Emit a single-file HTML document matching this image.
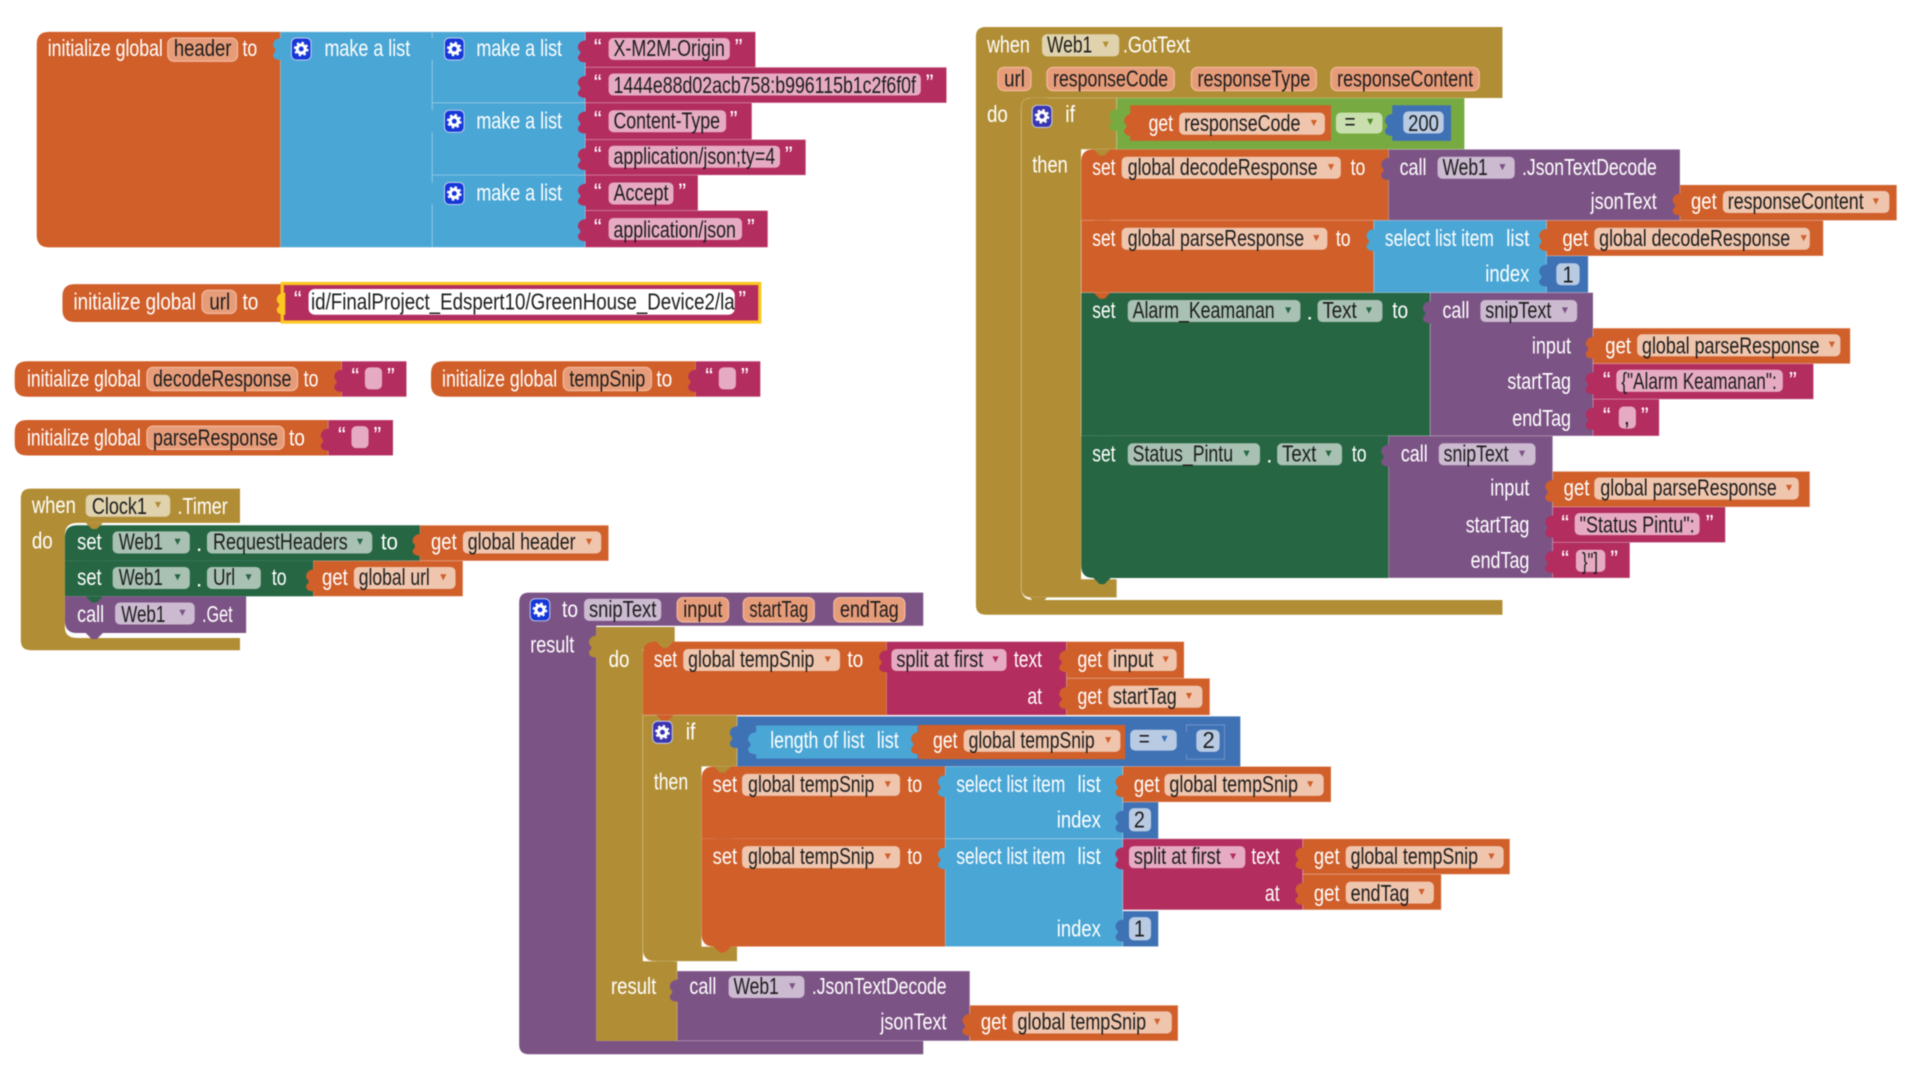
<!DOCTYPE html>
<html><head><meta charset="utf-8"><title>Blocks</title>
<style>
html,body{margin:0;padding:0;background:#fff;width:1920px;height:1080px;overflow:hidden}
svg{display:block;filter:blur(.5px)}
text{font-family:"Liberation Sans",sans-serif;font-size:19px;transform:translateY(.8px)}
.w{fill:#fff}.k{fill:#1c1c1c}
.b rect,rect.b{stroke:rgba(255,255,255,.22);stroke-width:.8}
.o{fill:#d05f2a}.l{fill:#4aa6d5}.m{fill:#b32d5e}.v{fill:#b18e35}.p{fill:#7c5385}.g{fill:#266643}.y{fill:#77ab41}.a{fill:#3f71b5}
.fn{fill:#e79c79;stroke:#f2b89c;stroke-width:1}.fg{fill:#efc5ad}.fm{fill:#e6abc2}.fe{fill:#a8c1b3}.fp{fill:#cbbad0}.fv{fill:#dfd2ad}.fa{fill:#b9cbe3}.fy{fill:#c9e0ae}
.ao{fill:#d05f2a}.ag{fill:#266643}.ap{fill:#7c5385}.am{fill:#b32d5e}.av{fill:#b18e35}.aa{fill:#3f71b5}
</style></head><body>
<svg xmlns="http://www.w3.org/2000/svg" width="1920" height="1080" viewBox="0 0 1568 882">
<defs>
<path id="n" d="M1 2C-3 2-6 4-6 8C-6 10-4 10-4 12C-4 14-6 14-6 16C-6 19-3 20 1 20z"/>
<path id="d" d="M-7 0L-2 5H2L7 0z"/>
<g id="c"><rect x="-8" y="-9" width="16" height="18" rx="4" stroke="#c3cdf0" stroke-width=".8"/><circle r="3.3" fill="none" stroke="#fff" stroke-width="2.6"/><circle r="5.2" fill="none" stroke="#fff" stroke-width="1.6" stroke-dasharray="2 2.1"/></g>
<path id="r" d="M-2.500 0H2.500L0 5z"/>
</defs>

<!-- header -->
<path class="o" d="M40 26H229V202H40Q30 202 30 192V36Q30 26 40 26z"/>
<text class="w" x="39" y="45" textLength="94" lengthAdjust="spacingAndGlyphs">initialize global</text>
<rect class="fn" x="137" y="31" width="57" height="19" rx="5"/>
<text class="k" x="142" y="45" textLength="47" lengthAdjust="spacingAndGlyphs">header</text>
<text class="w" x="198" y="45" textLength="12" lengthAdjust="spacingAndGlyphs">to</text>
<g class="b"><rect class="l" x="229" y="26" width="124" height="176"/><rect class="l" x="353" y="26" width="125" height="58"/><rect class="l" x="353" y="84" width="125" height="59"/><rect class="l" x="353" y="143" width="125" height="59"/></g>
<use href="#n" x="229" y="29" class="l"/><use href="#n" x="353" y="29" class="l"/><use href="#n" x="353" y="88" class="l"/><use href="#n" x="353" y="147" class="l"/>
<use href="#c" x="246" y="40" fill="#1537d8"/><use href="#c" x="371" y="40" fill="#1537d8"/><use href="#c" x="371" y="99" fill="#1537d8"/><use href="#c" x="371" y="158" fill="#1537d8"/>
<text class="w" x="265" y="45" textLength="70" lengthAdjust="spacingAndGlyphs">make a list</text>
<text class="w" x="389" y="45" textLength="70" lengthAdjust="spacingAndGlyphs">make a list</text>
<text class="w" x="389" y="104" textLength="70" lengthAdjust="spacingAndGlyphs">make a list</text>
<text class="w" x="389" y="163" textLength="70" lengthAdjust="spacingAndGlyphs">make a list</text>
<g class="b"><rect class="m" x="478" y="26" width="139" height="29"/><rect class="m" x="478" y="55" width="295" height="29"/><rect class="m" x="478" y="84" width="136" height="30"/><rect class="m" x="478" y="114" width="180" height="29"/><rect class="m" x="478" y="143" width="92" height="29"/><rect class="m" x="478" y="172" width="149" height="30"/></g>
<use href="#n" x="478" y="31" class="m"/><use href="#n" x="478" y="60" class="m"/><use href="#n" x="478" y="89" class="m"/><use href="#n" x="478" y="119" class="m"/><use href="#n" x="478" y="148" class="m"/><use href="#n" x="478" y="177" class="m"/>
<rect class="fm" x="497" y="31" width="99" height="18" rx="4"/><rect class="fm" x="497" y="60" width="255" height="18" rx="4"/><rect class="fm" x="497" y="90" width="96" height="18" rx="4"/><rect class="fm" x="497" y="119" width="140" height="18" rx="4"/><rect class="fm" x="497" y="149" width="53" height="18" rx="4"/><rect class="fm" x="497" y="178" width="109" height="18" rx="4"/>
<text class="w" x="485" y="44">“</text><text class="k" x="501" y="45" textLength="91" lengthAdjust="spacingAndGlyphs">X-M2M-Origin</text><text class="w" x="600" y="44">”</text>
<text class="w" x="485" y="73">“</text><text class="k" x="501" y="75" textLength="247" lengthAdjust="spacingAndGlyphs">1444e88d02acb758:b996115b1c2f6f0f</text><text class="w" x="756" y="73">”</text>
<text class="w" x="485" y="103">“</text><text class="k" x="501" y="104" textLength="87" lengthAdjust="spacingAndGlyphs">Content-Type</text><text class="w" x="596" y="103">”</text>
<text class="w" x="485" y="132">“</text><text class="k" x="501" y="133" textLength="132" lengthAdjust="spacingAndGlyphs">application/json;ty=4</text><text class="w" x="641" y="132">”</text>
<text class="w" x="485" y="162">“</text><text class="k" x="501" y="163" textLength="45" lengthAdjust="spacingAndGlyphs">Accept</text><text class="w" x="554" y="162">”</text>
<text class="w" x="485" y="191">“</text><text class="k" x="501" y="193" textLength="100" lengthAdjust="spacingAndGlyphs">application/json</text><text class="w" x="610" y="191">”</text>

<!-- url -->
<path class="o" d="M61 232H232V263H61Q51 263 51 253V242Q51 232 61 232z"/>
<text class="w" x="60" y="252" textLength="100" lengthAdjust="spacingAndGlyphs">initialize global</text>
<rect class="fn" x="165" y="237" width="28" height="19" rx="5"/>
<text class="k" x="171" y="252" textLength="17" lengthAdjust="spacingAndGlyphs">url</text>
<text class="w" x="198" y="252" textLength="13" lengthAdjust="spacingAndGlyphs">to</text>
<rect class="m" x="230.500" y="231.500" width="390" height="31.500" stroke="#fcc71f" stroke-width="2.600"/>
<use href="#n" x="232" y="237" fill="#fcc71f"/>
<rect x="252" y="236" width="348" height="21" rx="5" fill="#fff"/>
<text class="w" x="240" y="250">“</text>
<text class="k" x="254" y="252" textLength="346" lengthAdjust="spacingAndGlyphs">id/FinalProject_Edspert10/GreenHouse_Device2/la</text>
<text class="w" x="603" y="250">”</text>

<!-- decodeResponse -->
<path class="o" d="M22 295H279V324H22Q12 324 12 314V305Q12 295 22 295z"/>
<text class="w" x="22" y="315" textLength="93" lengthAdjust="spacingAndGlyphs">initialize global</text>
<rect class="fn" x="120" y="300" width="123" height="19" rx="5"/>
<text class="k" x="125" y="315" textLength="113" lengthAdjust="spacingAndGlyphs">decodeResponse</text>
<text class="w" x="248" y="315" textLength="12" lengthAdjust="spacingAndGlyphs">to</text>
<rect class="m b" x="279" y="295" width="53" height="29"/><use href="#n" x="279" y="300" class="m"/>
<text class="w" x="287" y="313">“</text><rect class="fm" x="298" y="300" width="14" height="18" rx="4"/><text class="w" x="316" y="313">”</text>
<!-- tempSnip -->
<path class="o" d="M362 295H568V324H362Q352 324 352 314V305Q352 295 362 295z"/>
<text class="w" x="361" y="315" textLength="94" lengthAdjust="spacingAndGlyphs">initialize global</text>
<rect class="fn" x="460" y="300" width="72" height="19" rx="5"/>
<text class="k" x="465" y="315" textLength="62" lengthAdjust="spacingAndGlyphs">tempSnip</text>
<text class="w" x="536" y="315" textLength="13" lengthAdjust="spacingAndGlyphs">to</text>
<rect class="m b" x="568" y="295" width="53" height="29"/><use href="#n" x="568" y="300" class="m"/>
<text class="w" x="576" y="313">“</text><rect class="fm" x="587" y="300" width="14" height="18" rx="4"/><text class="w" x="605" y="313">”</text>
<!-- parseResponse -->
<path class="o" d="M22 343H268V372H22Q12 372 12 362V353Q12 343 22 343z"/>
<text class="w" x="22" y="363" textLength="93" lengthAdjust="spacingAndGlyphs">initialize global</text>
<rect class="fn" x="120" y="348" width="112" height="19" rx="5"/>
<text class="k" x="125" y="363" textLength="102" lengthAdjust="spacingAndGlyphs">parseResponse</text>
<text class="w" x="236" y="363" textLength="13" lengthAdjust="spacingAndGlyphs">to</text>
<rect class="m b" x="268" y="343" width="53" height="29"/><use href="#n" x="268" y="348" class="m"/>
<text class="w" x="276" y="361">“</text><rect class="fm" x="287" y="348" width="14" height="18" rx="4"/><text class="w" x="305" y="361">”</text>

<!-- Clock -->
<path class="v" d="M25 399H196V427H63Q53 427 53 437V512Q53 521 63 521H196V531H25Q17 531 17 523V407Q17 399 25 399z"/>
<text class="w" x="26" y="418" textLength="36" lengthAdjust="spacingAndGlyphs">when</text>
<rect class="fv" x="70" y="404" width="69" height="18" rx="4"/><text class="k" x="75" y="419" textLength="45" lengthAdjust="spacingAndGlyphs">Clock1</text><use href="#r" x="129" y="410" class="av"/>
<text class="w" x="145" y="419" textLength="41" lengthAdjust="spacingAndGlyphs">.Timer</text>
<text class="w" x="26" y="447" textLength="17" lengthAdjust="spacingAndGlyphs">do</text>
<path class="g" d="M63 429H343V458H53V439Q53 429 63 429z"/><rect class="g" x="53" y="458" width="203" height="29"/>
<use href="#d" x="77" y="427" class="v"/>
<use href="#d" x="77" y="458" class="g"/>
<path class="p" d="M53 487H201V517H63Q53 517 53 507z"/><use href="#d" x="77" y="487" class="g"/><use href="#d" x="77" y="517" class="p"/>
<text class="w" x="63" y="448" textLength="20" lengthAdjust="spacingAndGlyphs">set</text>
<rect class="fe" x="92" y="434" width="63" height="18" rx="4"/><text class="k" x="97" y="448" textLength="36" lengthAdjust="spacingAndGlyphs">Web1</text><use href="#r" x="145" y="440" class="ag"/>
<text class="w" x="160" y="449">.</text>
<rect class="fe" x="169" y="434" width="135" height="18" rx="4"/><text class="k" x="174" y="448" textLength="110" lengthAdjust="spacingAndGlyphs">RequestHeaders</text><use href="#r" x="294" y="440" class="ag"/>
<text class="w" x="311" y="448" textLength="14" lengthAdjust="spacingAndGlyphs">to</text>
<rect class="o b" x="343" y="429" width="154" height="29"/><use href="#n" x="343" y="434" class="o"/>
<text class="w" x="352" y="448" textLength="21" lengthAdjust="spacingAndGlyphs">get</text>
<rect class="fg" x="378" y="434" width="113" height="18" rx="4"/><text class="k" x="382" y="448" textLength="88" lengthAdjust="spacingAndGlyphs">global header</text><use href="#r" x="481" y="440" class="ao"/>
<text class="w" x="63" y="477" textLength="20" lengthAdjust="spacingAndGlyphs">set</text>
<rect class="fe" x="92" y="463" width="63" height="18" rx="4"/><text class="k" x="97" y="477" textLength="36" lengthAdjust="spacingAndGlyphs">Web1</text><use href="#r" x="145" y="469" class="ag"/>
<text class="w" x="160" y="478">.</text>
<rect class="fe" x="169" y="463" width="44" height="18" rx="4"/><text class="k" x="174" y="477" textLength="18" lengthAdjust="spacingAndGlyphs">Url</text><use href="#r" x="203" y="469" class="ag"/>
<text class="w" x="222" y="477" textLength="12" lengthAdjust="spacingAndGlyphs">to</text>
<rect class="o b" x="256" y="458" width="122" height="29"/><use href="#n" x="256" y="463" class="o"/>
<text class="w" x="263" y="477" textLength="21" lengthAdjust="spacingAndGlyphs">get</text>
<rect class="fg" x="289" y="463" width="83" height="18" rx="4"/><text class="k" x="293" y="477" textLength="58" lengthAdjust="spacingAndGlyphs">global url</text><use href="#r" x="362" y="469" class="ao"/>
<text class="w" x="63" y="507" textLength="22" lengthAdjust="spacingAndGlyphs">call</text>
<rect class="fp" x="94" y="492" width="65" height="18" rx="4"/><text class="k" x="99" y="507" textLength="36" lengthAdjust="spacingAndGlyphs">Web1</text><use href="#r" x="149" y="498" class="ap"/>
<text class="w" x="165" y="507" textLength="25" lengthAdjust="spacingAndGlyphs">.Get</text>

<!-- GotText -->
<path class="v" d="M805 22H1227V80H844Q834 80 834 90V480Q834 490 844 490H1227V502H805Q797 502 797 494V30Q797 22 805 22z"/>
<text class="w" x="806" y="42" textLength="35" lengthAdjust="spacingAndGlyphs">when</text>
<rect class="fv" x="851" y="28" width="63" height="18" rx="4"/><text class="k" x="855" y="42" textLength="37" lengthAdjust="spacingAndGlyphs">Web1</text><use href="#r" x="903" y="34" class="av"/>
<text class="w" x="917" y="42" textLength="55" lengthAdjust="spacingAndGlyphs">.GotText</text>
<rect class="fn" x="815" y="55" width="27" height="19" rx="5"/><text class="k" x="820" y="70" textLength="17" lengthAdjust="spacingAndGlyphs">url</text>
<rect class="fn" x="855" y="55" width="104" height="19" rx="5"/><text class="k" x="860" y="70" textLength="94" lengthAdjust="spacingAndGlyphs">responseCode</text>
<rect class="fn" x="973" y="55" width="102" height="19" rx="5"/><text class="k" x="978" y="70" textLength="92" lengthAdjust="spacingAndGlyphs">responseType</text>
<rect class="fn" x="1087" y="55" width="121" height="19" rx="5"/><text class="k" x="1092" y="70" textLength="111" lengthAdjust="spacingAndGlyphs">responseContent</text>
<text class="w" x="806" y="99" textLength="17" lengthAdjust="spacingAndGlyphs">do</text>
<!-- if -->
<path class="v" d="M842 80H912V122H883V473H912V488H842Q834 488 834 480V88Q834 80 842 80z" stroke="rgba(255,255,255,.25)" stroke-width=".8"/>
<use href="#d" x="848" y="80" class="v"/><use href="#d" x="848" y="488" class="v"/>
<use href="#c" x="851" y="95" fill="#3a35b0"/>
<text class="w" x="870" y="99" textLength="8" lengthAdjust="spacingAndGlyphs">if</text>
<text class="w" x="843" y="140" textLength="29" lengthAdjust="spacingAndGlyphs">then</text>
<rect class="y b" x="912" y="80" width="284" height="42"/><use href="#n" x="912" y="87" class="y"/>
<rect class="o" x="923" y="86" width="164" height="29"/><use href="#n" x="924" y="91" class="o"/>
<text class="w" x="938" y="106" textLength="20" lengthAdjust="spacingAndGlyphs">get</text>
<rect class="fg" x="963" y="92" width="119" height="18" rx="4"/><text class="k" x="967" y="106" textLength="95" lengthAdjust="spacingAndGlyphs">responseCode</text><use href="#r" x="1073" y="98" class="ao"/>
<rect class="fy" x="1091" y="92" width="38" height="17" rx="4"/><text class="k" x="1098" y="105" textLength="9" lengthAdjust="spacingAndGlyphs">=</text><use href="#r" x="1119" y="97" fill="#4d8a25"/>
<rect class="a" x="1137" y="86" width="48" height="29"/><use href="#n" x="1137" y="91" class="a"/>
<rect class="fa" x="1146" y="91" width="33" height="18" rx="4"/><text class="k" x="1150" y="106" textLength="25" lengthAdjust="spacingAndGlyphs">200</text>
<!-- set decode -->
<g class="b"><path class="o" d="M893 122H1134V180H883V132Q883 122 893 122z"/><rect class="p" x="1134" y="122" width="238" height="58"/><rect class="o" x="1372" y="151" width="177" height="29"/></g>
<use href="#d" x="900" y="122" class="v"/>
<use href="#n" x="1134" y="127" class="p"/><use href="#n" x="1372" y="156" class="o"/>
<text class="w" x="892" y="142" textLength="19" lengthAdjust="spacingAndGlyphs">set</text>
<rect class="fg" x="916" y="128" width="179" height="18" rx="4"/><text class="k" x="921" y="142" textLength="155" lengthAdjust="spacingAndGlyphs">global decodeResponse</text><use href="#r" x="1087" y="134" class="ao"/>
<text class="w" x="1103" y="142" textLength="12" lengthAdjust="spacingAndGlyphs">to</text>
<text class="w" x="1143" y="142" textLength="22" lengthAdjust="spacingAndGlyphs">call</text>
<rect class="fp" x="1174" y="128" width="63" height="18" rx="4"/><text class="k" x="1178" y="142" textLength="37" lengthAdjust="spacingAndGlyphs">Web1</text><use href="#r" x="1227" y="134" class="ap"/>
<text class="w" x="1243" y="142" textLength="110" lengthAdjust="spacingAndGlyphs">.JsonTextDecode</text>
<text class="w" x="1299" y="170" textLength="54" lengthAdjust="spacingAndGlyphs">jsonText</text>
<text class="w" x="1381" y="170" textLength="21" lengthAdjust="spacingAndGlyphs">get</text>
<rect class="fg" x="1407" y="156" width="136" height="18" rx="4"/><text class="k" x="1411" y="170" textLength="111" lengthAdjust="spacingAndGlyphs">responseContent</text><use href="#r" x="1532" y="162" class="ao"/>
<!-- set parse -->
<g class="b"><rect class="o" x="883" y="180" width="239" height="59"/><rect class="l" x="1122" y="180" width="141" height="59"/><rect class="o" x="1263" y="180" width="226" height="29"/><rect class="a" x="1263" y="209" width="34" height="30"/></g>
<use href="#d" x="900" y="180" class="o"/>
<use href="#n" x="1122" y="185" class="l"/><use href="#n" x="1263" y="185" class="o"/><use href="#n" x="1263" y="214" class="a"/>
<text class="w" x="892" y="200" textLength="19" lengthAdjust="spacingAndGlyphs">set</text>
<rect class="fg" x="916" y="186" width="168" height="18" rx="4"/><text class="k" x="921" y="200" textLength="144" lengthAdjust="spacingAndGlyphs">global parseResponse</text><use href="#r" x="1075" y="192" class="ao"/>
<text class="w" x="1091" y="200" textLength="12" lengthAdjust="spacingAndGlyphs">to</text>
<text class="w" x="1131" y="200" textLength="89" lengthAdjust="spacingAndGlyphs">select list item</text>
<text class="w" x="1230" y="200" textLength="19" lengthAdjust="spacingAndGlyphs">list</text>
<text class="w" x="1213" y="229" textLength="36" lengthAdjust="spacingAndGlyphs">index</text>
<text class="w" x="1276" y="200" textLength="21" lengthAdjust="spacingAndGlyphs">get</text>
<rect class="fg" x="1302" y="186" width="176" height="18" rx="4"/><text class="k" x="1306" y="200" textLength="156" lengthAdjust="spacingAndGlyphs">global decodeResponse</text><use href="#r" x="1473" y="192" class="ao"/>
<rect class="fa" x="1271" y="215" width="19" height="18" rx="4"/><text class="k" x="1276" y="230" textLength="9" lengthAdjust="spacingAndGlyphs">1</text>
<!-- set alarm -->
<g class="b"><rect class="g" x="883" y="239" width="285" height="117"/><rect class="p" x="1168" y="239" width="133" height="117"/><rect class="o" x="1301" y="268" width="210" height="29"/><rect class="m" x="1301" y="297" width="180" height="29"/><rect class="m" x="1301" y="326" width="54" height="30"/></g>
<use href="#d" x="900" y="239" class="o"/>
<use href="#n" x="1168" y="244" class="p"/><use href="#n" x="1301" y="273" class="o"/><use href="#n" x="1301" y="302" class="m"/><use href="#n" x="1301" y="331" class="m"/>
<text class="w" x="892" y="259" textLength="19" lengthAdjust="spacingAndGlyphs">set</text>
<rect class="fe" x="921" y="245" width="141" height="18" rx="4"/><text class="k" x="925" y="259" textLength="116" lengthAdjust="spacingAndGlyphs">Alarm_Keamanan</text><use href="#r" x="1052" y="251" class="ag"/>
<text class="w" x="1067" y="260">.</text>
<rect class="fe" x="1076" y="245" width="53" height="18" rx="4"/><text class="k" x="1080" y="259" textLength="28" lengthAdjust="spacingAndGlyphs">Text</text><use href="#r" x="1118" y="251" class="ag"/>
<text class="w" x="1137" y="259" textLength="13" lengthAdjust="spacingAndGlyphs">to</text>
<text class="w" x="1178" y="259" textLength="22" lengthAdjust="spacingAndGlyphs">call</text>
<rect class="fp" x="1209" y="245" width="79" height="18" rx="4"/><text class="k" x="1213" y="259" textLength="54" lengthAdjust="spacingAndGlyphs">snipText</text><use href="#r" x="1278" y="251" class="ap"/>
<text class="w" x="1251" y="288" textLength="32" lengthAdjust="spacingAndGlyphs">input</text>
<text class="w" x="1231" y="317" textLength="52" lengthAdjust="spacingAndGlyphs">startTag</text>
<text class="w" x="1235" y="347" textLength="48" lengthAdjust="spacingAndGlyphs">endTag</text>
<text class="w" x="1311" y="288" textLength="21" lengthAdjust="spacingAndGlyphs">get</text>
<rect class="fg" x="1337" y="273" width="166" height="18" rx="4"/><text class="k" x="1341" y="288" textLength="145" lengthAdjust="spacingAndGlyphs">global parseResponse</text><use href="#r" x="1496" y="279" class="ao"/>
<text class="w" x="1309" y="316">“</text><rect class="fm" x="1320" y="302" width="136" height="18" rx="4"/><text class="k" x="1324" y="317" textLength="127" lengthAdjust="spacingAndGlyphs">{"Alarm Keamanan":</text><text class="w" x="1461" y="316">”</text>
<text class="w" x="1309" y="345">“</text><rect class="fm" x="1322" y="332" width="14" height="18" rx="4"/><text class="k" x="1326" y="346">,</text><text class="w" x="1340" y="345">”</text>
<!-- set status -->
<g class="b"><path class="g" d="M883 356H1134V472H893Q883 472 883 462z"/><rect class="p" x="1134" y="356" width="134" height="116"/><rect class="o" x="1268" y="385" width="210" height="29"/><rect class="m" x="1268" y="414" width="141" height="29"/><rect class="m" x="1268" y="443" width="63" height="29"/></g>
<use href="#d" x="900" y="356" class="g"/><use href="#d" x="900" y="472" class="g"/>
<use href="#n" x="1134" y="361" class="p"/><use href="#n" x="1268" y="390" class="o"/><use href="#n" x="1268" y="419" class="m"/><use href="#n" x="1268" y="448" class="m"/>
<text class="w" x="892" y="376" textLength="19" lengthAdjust="spacingAndGlyphs">set</text>
<rect class="fe" x="921" y="362" width="108" height="18" rx="4"/><text class="k" x="925" y="376" textLength="82" lengthAdjust="spacingAndGlyphs">Status_Pintu</text><use href="#r" x="1018" y="368" class="ag"/>
<text class="w" x="1034" y="377">.</text>
<rect class="fe" x="1043" y="362" width="53" height="18" rx="4"/><text class="k" x="1047" y="376" textLength="28" lengthAdjust="spacingAndGlyphs">Text</text><use href="#r" x="1085" y="368" class="ag"/>
<text class="w" x="1104" y="376" textLength="12" lengthAdjust="spacingAndGlyphs">to</text>
<text class="w" x="1144" y="376" textLength="22" lengthAdjust="spacingAndGlyphs">call</text>
<rect class="fp" x="1175" y="362" width="79" height="18" rx="4"/><text class="k" x="1179" y="376" textLength="53" lengthAdjust="spacingAndGlyphs">snipText</text><use href="#r" x="1243" y="368" class="ap"/>
<text class="w" x="1217" y="404" textLength="32" lengthAdjust="spacingAndGlyphs">input</text>
<text class="w" x="1197" y="434" textLength="52" lengthAdjust="spacingAndGlyphs">startTag</text>
<text class="w" x="1201" y="463" textLength="48" lengthAdjust="spacingAndGlyphs">endTag</text>
<text class="w" x="1277" y="404" textLength="21" lengthAdjust="spacingAndGlyphs">get</text>
<rect class="fg" x="1302" y="390" width="167" height="18" rx="4"/><text class="k" x="1307" y="404" textLength="144" lengthAdjust="spacingAndGlyphs">global parseResponse</text><use href="#r" x="1461" y="396" class="ao"/>
<text class="w" x="1275" y="433">“</text><rect class="fm" x="1286" y="419" width="102" height="18" rx="4"/><text class="k" x="1290" y="434" textLength="94" lengthAdjust="spacingAndGlyphs">"Status Pintu":</text><text class="w" x="1393" y="433">”</text>
<text class="w" x="1275" y="462">“</text><rect class="fm" x="1287" y="449" width="24" height="18" rx="4"/><text class="k" x="1292" y="464" textLength="13" lengthAdjust="spacingAndGlyphs">}"]</text><text class="w" x="1315" y="462">”</text>

<!-- snipText -->
<path class="p" d="M432 484H754V511H487V850H754V861H432Q424 861 424 853V492Q424 484 432 484z"/>
<use href="#c" x="441" y="498" fill="#1537d8"/>
<text class="w" x="459" y="503" textLength="13" lengthAdjust="spacingAndGlyphs">to</text>
<rect class="fp" x="477" y="489" width="63" height="18" rx="4"/><text class="k" x="481" y="503" textLength="55" lengthAdjust="spacingAndGlyphs">snipText</text>
<rect class="fn" x="553" y="488" width="42" height="20" rx="5"/><text class="k" x="558" y="503" textLength="32" lengthAdjust="spacingAndGlyphs">input</text>
<rect class="fn" x="607" y="488" width="58" height="20" rx="5"/><text class="k" x="612" y="503" textLength="48" lengthAdjust="spacingAndGlyphs">startTag</text>
<rect class="fn" x="681" y="488" width="58" height="20" rx="5"/><text class="k" x="686" y="503" textLength="48" lengthAdjust="spacingAndGlyphs">endTag</text>
<text class="w" x="433" y="532" textLength="36" lengthAdjust="spacingAndGlyphs">result</text>
<path class="v" d="M487 512H551V530H525V785H553V850H487z"/><use href="#n" x="487" y="517" class="v"/>
<text class="w" x="497" y="544" textLength="17" lengthAdjust="spacingAndGlyphs">do</text>
<text class="w" x="499" y="811" textLength="37" lengthAdjust="spacingAndGlyphs">result</text>
<!-- result call -->
<g class="b"><rect class="p" x="553" y="793" width="239" height="57"/><rect class="o" x="792" y="821" width="170" height="29"/></g>
<use href="#n" x="553" y="798" class="p"/><use href="#n" x="792" y="826" class="o"/>
<text class="w" x="563" y="811" textLength="22" lengthAdjust="spacingAndGlyphs">call</text>
<rect class="fp" x="595" y="797" width="62" height="18" rx="4"/><text class="k" x="599" y="811" textLength="37" lengthAdjust="spacingAndGlyphs">Web1</text><use href="#r" x="647" y="803" class="ap"/>
<text class="w" x="663" y="811" textLength="110" lengthAdjust="spacingAndGlyphs">.JsonTextDecode</text>
<text class="w" x="719" y="840" textLength="54" lengthAdjust="spacingAndGlyphs">jsonText</text>
<text class="w" x="801" y="840" textLength="21" lengthAdjust="spacingAndGlyphs">get</text>
<rect class="fg" x="827" y="826" width="130" height="18" rx="4"/><text class="k" x="831" y="840" textLength="105" lengthAdjust="spacingAndGlyphs">global tempSnip</text><use href="#r" x="945" y="832" class="ao"/>
<!-- set split -->
<g class="b"><path class="o" d="M535 524H724V584H525V534Q525 524 535 524z"/><rect class="m" x="724" y="524" width="147" height="60"/><rect class="o" x="871" y="524" width="96" height="30"/><rect class="o" x="871" y="554" width="117" height="30"/></g>
<use href="#d" x="543" y="524" class="v"/>
<use href="#n" x="724" y="529" class="m"/><use href="#n" x="871" y="529" class="o"/><use href="#n" x="871" y="559" class="o"/>
<text class="w" x="534" y="544" textLength="19" lengthAdjust="spacingAndGlyphs">set</text>
<rect class="fg" x="558" y="530" width="128" height="18" rx="4"/><text class="k" x="562" y="544" textLength="103" lengthAdjust="spacingAndGlyphs">global tempSnip</text><use href="#r" x="676" y="536" class="ao"/>
<text class="w" x="692" y="544" textLength="13" lengthAdjust="spacingAndGlyphs">to</text>
<rect class="fm" x="728" y="530" width="94" height="18" rx="4"/><text class="k" x="732" y="544" textLength="71" lengthAdjust="spacingAndGlyphs">split at first</text><use href="#r" x="813" y="536" class="am"/>
<text class="w" x="828" y="544" textLength="23" lengthAdjust="spacingAndGlyphs">text</text>
<text class="w" x="839" y="574" textLength="12" lengthAdjust="spacingAndGlyphs">at</text>
<text class="w" x="880" y="544" textLength="20" lengthAdjust="spacingAndGlyphs">get</text>
<rect class="fg" x="905" y="530" width="56" height="18" rx="4"/><text class="k" x="909" y="544" textLength="33" lengthAdjust="spacingAndGlyphs">input</text><use href="#r" x="952" y="536" class="ao"/>
<text class="w" x="880" y="574" textLength="20" lengthAdjust="spacingAndGlyphs">get</text>
<rect class="fg" x="905" y="560" width="77" height="18" rx="4"/><text class="k" x="909" y="574" textLength="52" lengthAdjust="spacingAndGlyphs">startTag</text><use href="#r" x="971" y="566" class="ao"/>
<!-- inner if -->
<path class="v" d="M525 584H602V626H573V773H602V785H535Q525 785 525 775z" stroke="rgba(255,255,255,.25)" stroke-width=".8"/>
<use href="#d" x="543" y="584" class="o"/><use href="#d" x="543" y="785" class="v"/>
<use href="#c" x="541" y="598" fill="#3a35b0"/>
<text class="w" x="560" y="603" textLength="8" lengthAdjust="spacingAndGlyphs">if</text>
<text class="w" x="534" y="644" textLength="28" lengthAdjust="spacingAndGlyphs">then</text>
<rect class="a b" x="602" y="585" width="411" height="41"/><use href="#n" x="602" y="591" class="a"/>
<rect class="l" x="617" y="592" width="133" height="28" stroke="#3f71b5"/><use href="#n" x="617" y="596" class="l"/>
<text class="w" x="629" y="610" textLength="77" lengthAdjust="spacingAndGlyphs">length of list</text>
<text class="w" x="716" y="610" textLength="18" lengthAdjust="spacingAndGlyphs">list</text>
<rect class="o" x="750" y="592" width="169" height="28"/><use href="#n" x="750" y="596" class="o"/>
<text class="w" x="762" y="610" textLength="20" lengthAdjust="spacingAndGlyphs">get</text>
<rect class="fg" x="787" y="596" width="128" height="18" rx="4"/><text class="k" x="791" y="610" textLength="103" lengthAdjust="spacingAndGlyphs">global tempSnip</text><use href="#r" x="905" y="602" class="ao"/>
<rect class="fa" x="923" y="596" width="38" height="17" rx="4"/><text class="k" x="930" y="609" textLength="9" lengthAdjust="spacingAndGlyphs">=</text><use href="#r" x="951" y="601" class="aa"/>
<rect x="969" y="592" width="31" height="28" fill="#3f71b5" stroke="#6f94c9" stroke-width=".8"/><use href="#n" x="969" y="596" class="a"/>
<rect class="fa" x="977" y="596" width="19" height="18" rx="4"/><text class="k" x="982" y="610" textLength="10" lengthAdjust="spacingAndGlyphs">2</text>
<!-- set select 1 -->
<g class="b"><path class="o" d="M583 626H772V685H573V636Q573 626 583 626z"/><rect class="l" x="772" y="626" width="145" height="59"/><rect class="o" x="917" y="626" width="170" height="29"/><rect class="a" x="917" y="655" width="29" height="30"/></g>
<use href="#d" x="590" y="626" class="v"/>
<use href="#n" x="772" y="631" class="l"/><use href="#n" x="917" y="631" class="o"/><use href="#n" x="917" y="660" class="a"/>
<text class="w" x="582" y="646" textLength="20" lengthAdjust="spacingAndGlyphs">set</text>
<rect class="fg" x="606" y="632" width="129" height="18" rx="4"/><text class="k" x="611" y="646" textLength="103" lengthAdjust="spacingAndGlyphs">global tempSnip</text><use href="#r" x="725" y="638" class="ao"/>
<text class="w" x="741" y="646" textLength="12" lengthAdjust="spacingAndGlyphs">to</text>
<text class="w" x="781" y="646" textLength="89" lengthAdjust="spacingAndGlyphs">select list item</text>
<text class="w" x="880" y="646" textLength="19" lengthAdjust="spacingAndGlyphs">list</text>
<text class="w" x="863" y="675" textLength="36" lengthAdjust="spacingAndGlyphs">index</text>
<text class="w" x="926" y="646" textLength="21" lengthAdjust="spacingAndGlyphs">get</text>
<rect class="fg" x="951" y="632" width="130" height="18" rx="4"/><text class="k" x="955" y="646" textLength="105" lengthAdjust="spacingAndGlyphs">global tempSnip</text><use href="#r" x="1070" y="638" class="ao"/>
<rect class="fa" x="922" y="660" width="18" height="19" rx="4"/><text class="k" x="926" y="675" textLength="9" lengthAdjust="spacingAndGlyphs">2</text>
<!-- set select 2 -->
<g class="b"><path class="o" d="M573 685H772V773H583Q573 773 573 763z"/><rect class="l" x="772" y="685" width="145" height="88"/><rect class="m" x="917" y="685" width="147" height="58"/><rect class="o" x="1064" y="685" width="169" height="29"/><rect class="o" x="1064" y="714" width="113" height="29"/><rect class="a" x="917" y="744" width="29" height="29"/></g>
<use href="#d" x="590" y="685" class="o"/><use href="#d" x="590" y="773" class="o"/>
<use href="#n" x="772" y="690" class="l"/><use href="#n" x="917" y="690" class="m"/><use href="#n" x="1064" y="690" class="o"/><use href="#n" x="1064" y="719" class="o"/><use href="#n" x="917" y="749" class="a"/>
<text class="w" x="582" y="705" textLength="20" lengthAdjust="spacingAndGlyphs">set</text>
<rect class="fg" x="606" y="691" width="129" height="18" rx="4"/><text class="k" x="611" y="705" textLength="103" lengthAdjust="spacingAndGlyphs">global tempSnip</text><use href="#r" x="725" y="697" class="ao"/>
<text class="w" x="741" y="705" textLength="12" lengthAdjust="spacingAndGlyphs">to</text>
<text class="w" x="781" y="705" textLength="89" lengthAdjust="spacingAndGlyphs">select list item</text>
<text class="w" x="880" y="705" textLength="19" lengthAdjust="spacingAndGlyphs">list</text>
<text class="w" x="863" y="764" textLength="36" lengthAdjust="spacingAndGlyphs">index</text>
<rect class="fm" x="922" y="691" width="95" height="18" rx="4"/><text class="k" x="926" y="705" textLength="71" lengthAdjust="spacingAndGlyphs">split at first</text><use href="#r" x="1007" y="697" class="am"/>
<text class="w" x="1022" y="705" textLength="23" lengthAdjust="spacingAndGlyphs">text</text>
<text class="w" x="1033" y="735" textLength="12" lengthAdjust="spacingAndGlyphs">at</text>
<text class="w" x="1073" y="705" textLength="21" lengthAdjust="spacingAndGlyphs">get</text>
<rect class="fg" x="1099" y="691" width="129" height="18" rx="4"/><text class="k" x="1103" y="705" textLength="104" lengthAdjust="spacingAndGlyphs">global tempSnip</text><use href="#r" x="1218" y="697" class="ao"/>
<text class="w" x="1073" y="735" textLength="21" lengthAdjust="spacingAndGlyphs">get</text>
<rect class="fg" x="1099" y="720" width="72" height="18" rx="4"/><text class="k" x="1103" y="735" textLength="48" lengthAdjust="spacingAndGlyphs">endTag</text><use href="#r" x="1161" y="726" class="ao"/>
<rect class="fa" x="922" y="749" width="18" height="19" rx="4"/><text class="k" x="926" y="764" textLength="9" lengthAdjust="spacingAndGlyphs">1</text>
</svg>
</body></html>
